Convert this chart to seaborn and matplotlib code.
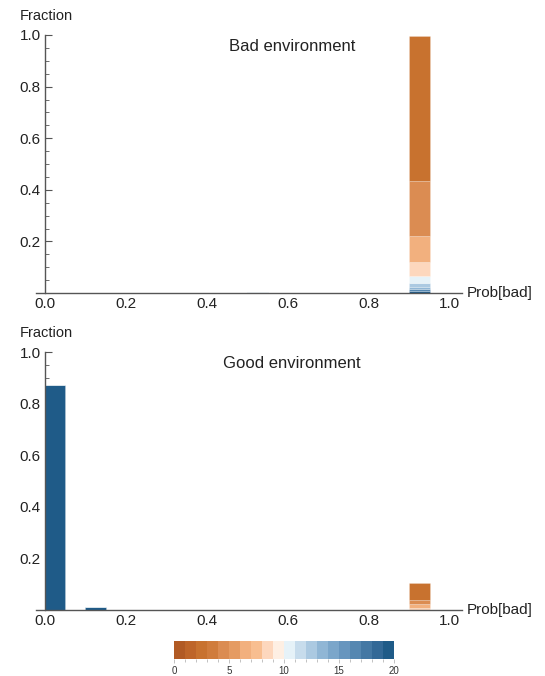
import numpy as np
import pandas as pd
import matplotlib
matplotlib.use("Agg")
import matplotlib.pyplot as plt
from matplotlib.colors import ListedColormap, BoundaryNorm
from matplotlib.ticker import MultipleLocator, FixedLocator
import seaborn as sns

sns.set_style("white")
plt.rcParams['font.family'] = ['Liberation Sans', 'DejaVu Sans']

# ---- data ----
class_colors = ['#B15A24', '#BE6529', '#C8722F', '#D07C3C', '#DB8C52', '#E59B62',
                '#F2B07E', '#F8BE90', '#FDD7BD', '#FEEFE3',
                '#E6F2F8', '#C7DCEC', '#ABC9E1', '#90B6D5', '#7BA6CA', '#6795BE',
                '#5587B1', '#4478A4', '#336997', '#1F5B88']
bin_edges = [0.0, 0.05, 0.1, 0.15, 0.2, 0.25, 0.3, 0.35, 0.4, 0.45, 0.5,
             0.55, 0.6, 0.65, 0.7, 0.75, 0.8, 0.85, 0.9, 0.95, 1.0]

bad_x = [0.925, 0.925, 0.925, 0.925, 0.925, 0.925, 0.925, 0.925, 0.925, 0.525]
bad_class = [19, 16, 13, 12, 10, 8, 6, 4, 2, 12]
bad_frac = [0.006, 0.010, 0.009, 0.014, 0.027, 0.054, 0.101, 0.214, 0.562, 0.003]

good_x = [0.025, 0.125, 0.525, 0.925, 0.925, 0.925, 0.925]
good_class = [19, 19, 19, 8, 6, 4, 2]
good_frac = [0.873, 0.013, 0.002, 0.010, 0.013, 0.018, 0.065]

panel_titles = ["Bad environment", "Good environment"]
x_ticks = [0.0, 0.2, 0.4, 0.6, 0.8, 1.0]
y_ticks = [0.2, 0.4, 0.6, 0.8, 1.0]
cbar_ticks = [0, 5, 10, 15, 20]

W, H = 545, 676
fig = plt.figure(figsize=(W / 100, H / 100), dpi=100)

def px_axes(left, top, right, bottom):
    return fig.add_axes([left / W, 1 - bottom / H, (right - left) / W, (bottom - top) / H])

axis_col = '#555555'
palette = {i: c for i, c in enumerate(class_colors)}

panels = [
    (bad_x, bad_class, bad_frac, 35.0, 293.0),
    (good_x, good_class, good_frac, 352.0, 610.3),
]

for k, (xs, cls, fr, top, bottom) in enumerate(panels):
    ax = px_axes(36, top, 462, bottom)
    df = pd.DataFrame({"x": xs, "cls": cls, "frac": fr})
    # first hue level is drawn on top of the stack
    order = sorted(set(cls))
    sns.histplot(data=df, x="x", weights="frac", hue="cls", hue_order=order,
                 multiple="stack", bins=bin_edges, palette=palette, ax=ax,
                 legend=False, linewidth=0.4, edgecolor=(1, 1, 1, 0.35), alpha=1)
    ax.set_xlim(-0.022, 1.03)
    ax.set_ylim(0, 1.0)
    ax.set_xlabel("")
    ax.set_ylabel("")
    ax.patch.set_alpha(0)
    for s in ["top", "right"]:
        ax.spines[s].set_visible(False)
    ax.spines['left'].set_position(('data', 0))
    ax.spines['left'].set_bounds(0, 1.0)
    for s in ["left", "bottom"]:
        ax.spines[s].set_color(axis_col)
        ax.spines[s].set_linewidth(1.0)
    ax.xaxis.set_major_locator(FixedLocator(x_ticks))
    ax.yaxis.set_major_locator(FixedLocator(y_ticks))
    ax.xaxis.set_minor_locator(MultipleLocator(0.05))
    ax.yaxis.set_minor_locator(MultipleLocator(0.05))
    ax.set_xticklabels([f"{v:.1f}" for v in x_ticks])
    ax.set_yticklabels([f"{v:.1f}" for v in y_ticks])
    ax.tick_params(axis='both', which='major', direction='in', length=5, width=0.8,
                   color=axis_col, labelsize=11, labelcolor='#222222', pad=3)
    ax.tick_params(axis='both', which='minor', direction='in', length=3, width=0.6,
                   color=axis_col)
    ax.tick_params(axis='y', which='both', left=True)
    ax.text(0.61, 0.957, panel_titles[k], ha='center', va='center', fontsize=12,
            color='#222222', transform=ax.transData)
    fig.text(20 / W, 1 - (top - 19) / H, "Fraction", ha='left', va='center',
             fontsize=10.5, color='#222222')
    fig.text(467 / W, 1 - bottom / H, "Prob[bad]", ha='left', va='center',
             fontsize=11, color='#222222')

# colorbar
cax = px_axes(174, 641, 394, 659)
cmap = ListedColormap(class_colors)
norm = BoundaryNorm(np.arange(0, 21), cmap.N)
cb = matplotlib.colorbar.ColorbarBase(cax, cmap=cmap, norm=norm, orientation='horizontal')
cb.outline.set_visible(False)
cb.set_ticks(cbar_ticks)
cb.set_ticklabels([str(t) for t in cbar_ticks])
cax.xaxis.set_minor_locator(MultipleLocator(1))
cax.tick_params(axis='x', which='major', length=3, width=0.5, color='#aaaaaa',
                labelsize=7, labelcolor='#333333', pad=2)
cax.tick_params(axis='x', which='minor', length=2, width=0.5, color='#aaaaaa')

fig.savefig("out.png", dpi=100)
